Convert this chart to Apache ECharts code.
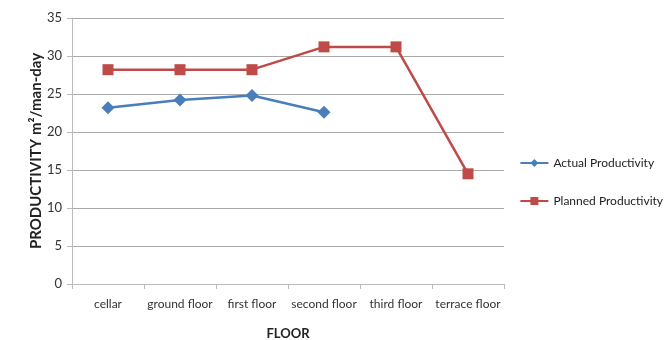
<!DOCTYPE html>
<html><head><meta charset="utf-8">
<script src="https://cdn.jsdelivr.net/npm/echarts@6/dist/echarts.min.js"></script>
<style>html,body{margin:0;padding:0;background:#fff}#c{width:672px;height:340px}</style>
</head><body><div id="c"></div>
<script>
const categories = ["cellar","ground floor","first floor","second floor","third floor","terrace floor"];
const actual = [23.2, 24.2, 24.8, 22.6, null, null];
const planned = [28.2, 28.2, 28.2, 31.2, 31.2, 14.5];
const yTicks = {min:0, max:35, interval:5};
const FONT = "Lato, sans-serif";
const chart = echarts.init(document.getElementById('c'));
chart.setOption({
  animation:false,
  textStyle:{fontFamily:FONT},
  grid:{left:72, right:168, top:18, bottom:56, containLabel:false, outerBoundsMode:'none'},
  legend:{
    orient:'vertical', right:4, top:152, itemGap:26, itemWidth:28, itemHeight:10,
    textStyle:{fontFamily:FONT, fontSize:12, color:'#222'},
    data:['Actual Productivity','Planned Productivity']
  },
  xAxis:{
    type:'category', data:categories, boundaryGap:true,
    name:'FLOOR', nameLocation:'middle', nameGap:43,
    nameTextStyle:{fontFamily:FONT, fontWeight:'bold', fontSize:13, color:'#222'},
    axisLine:{lineStyle:{color:'#bbb'}},
    axisTick:{show:true, length:5, lineStyle:{color:'#bbb'}},
    axisLabel:{fontFamily:FONT, fontSize:12, color:'#333', margin:14, interval:0}
  },
  yAxis:{
    type:'value', min:yTicks.min, max:yTicks.max, interval:yTicks.interval,
    name:'PRODUCTIVITY m²/man-day', nameLocation:'middle', nameGap:28, nameRotate:90,
    nameMoveOverlap:false,
    nameTextStyle:{fontFamily:FONT, fontWeight:'bold', fontSize:15, color:'#222'},
    axisLine:{show:true, lineStyle:{color:'#bbb'}},
    axisTick:{show:true, length:5, lineStyle:{color:'#bbb'}},
    splitLine:{lineStyle:{color:'#aaa'}},
    axisLabel:{fontFamily:FONT, fontSize:13, color:'#333', margin:10}
  },
  series:[
    {name:'Actual Productivity', type:'line', data:actual, symbol:'diamond', symbolSize:13,
     lineStyle:{color:'#4a7ebb', width:2.5}, itemStyle:{color:'#4a7ebb'}, connectNulls:false},
    {name:'Planned Productivity', type:'line', data:planned, symbol:'rect', symbolSize:11,
     lineStyle:{color:'#be4b48', width:2.5}, itemStyle:{color:'#be4b48'}}
  ]
});
</script></body></html>
